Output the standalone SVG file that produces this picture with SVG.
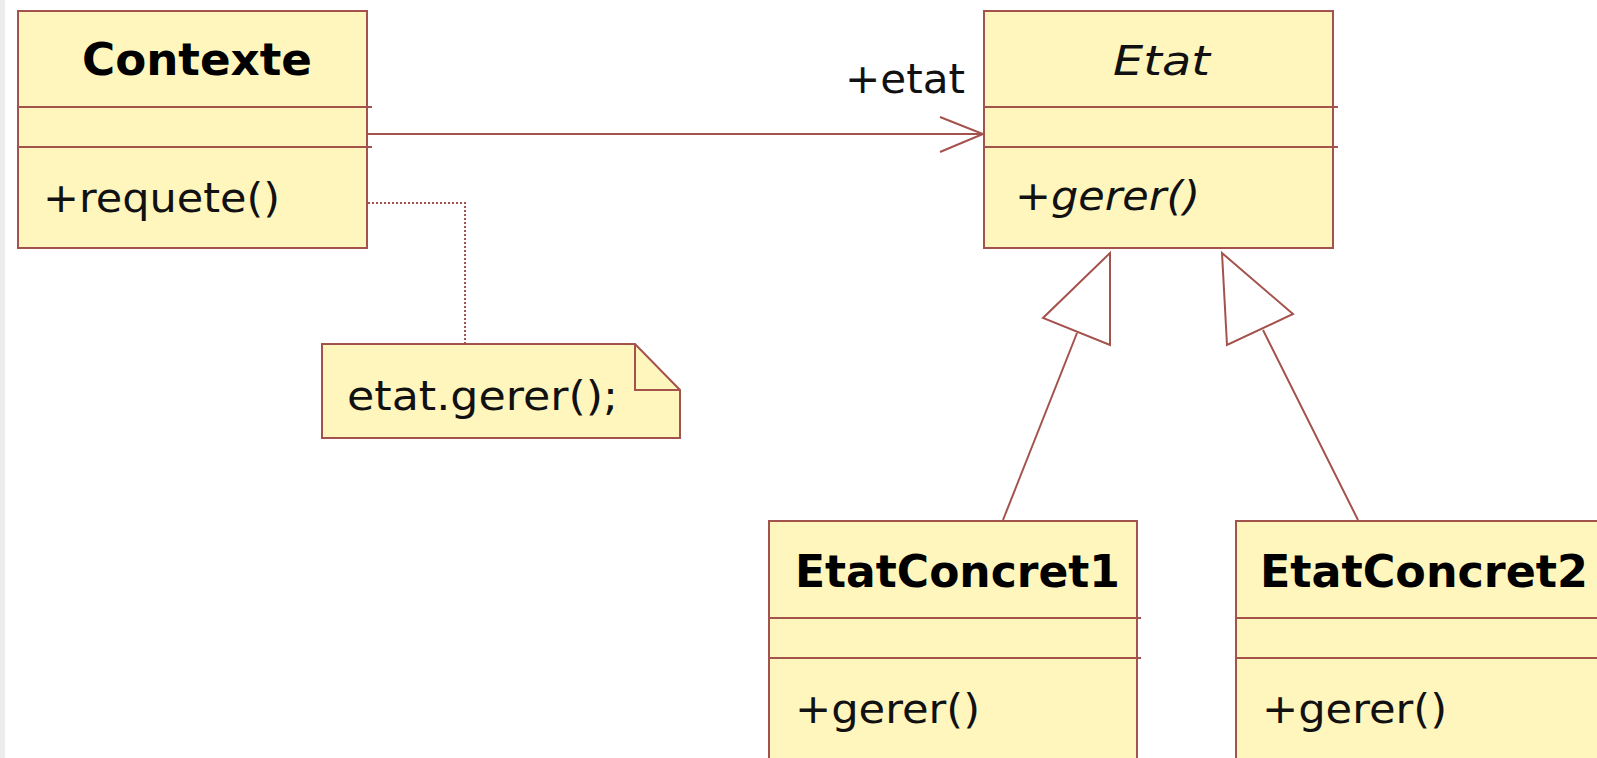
<svg xmlns="http://www.w3.org/2000/svg" width="1597" height="758" viewBox="0 0 1597 758">
<style>
.box{fill:#FFF6BE;stroke:#A4524C;stroke-width:2}
.div{stroke:#A4524C;stroke-width:2}
.ln{stroke:#A4524C;stroke-width:2;fill:none}
.tri{fill:#FFFFFF;stroke:#A4524C;stroke-width:2}
.t{font-family:"DejaVu Sans",Verdana,sans-serif;font-size:41px;fill:#111}
.b{font-family:"DejaVu Sans",Verdana,sans-serif;font-size:44px;font-weight:bold;fill:#000}
.i{font-family:"DejaVu Sans",Verdana,sans-serif;font-size:41px;font-style:italic;fill:#111}
</style>
<rect x="0" y="0" width="1597" height="758" fill="#FFFFFF"/>
<rect x="0" y="0" width="5" height="758" fill="#ECECEC"/>
<g id="connectors">
<line class="ln" x1="367" y1="134" x2="983" y2="134"/>
<polyline class="ln" points="940,117 983,134 940,152"/>
<polyline class="ln" points="368,203 465,203 465,343" stroke-dasharray="2,2"/>
<line class="ln" x1="1003" y1="520" x2="1077" y2="333"/>
<polygon class="tri" points="1110,253 1110,345 1043,318"/>
<line class="ln" x1="1358" y1="520" x2="1263" y2="330"/>
<polygon class="tri" points="1222,253 1227,345 1293,314"/>
</g>
<g id="contexte">
<rect class="box" x="18" y="11" width="349" height="237"/>
<line class="div" x1="18" y1="107" x2="372" y2="107"/>
<line class="div" x1="18" y1="147" x2="372" y2="147"/>
<text class="b" x="197" y="75" text-anchor="middle" textLength="230" lengthAdjust="spacingAndGlyphs">Contexte</text>
<text class="t" x="43" y="212" textLength="237" lengthAdjust="spacingAndGlyphs">+requete()</text>
</g>
<g id="etat-label">
<text class="t" x="845" y="93" textLength="120" lengthAdjust="spacingAndGlyphs">+etat</text>
</g>
<g id="etat">
<rect class="box" x="984" y="11" width="349" height="237"/>
<line class="div" x1="984" y1="107" x2="1338" y2="107"/>
<line class="div" x1="984" y1="147" x2="1338" y2="147"/>
<text class="i" x="1113" y="75" textLength="97" lengthAdjust="spacingAndGlyphs">Etat</text>
<text class="i" x="1015" y="210" textLength="185" lengthAdjust="spacingAndGlyphs">+gerer()</text>
</g>
<g id="note">
<polygon class="box" points="322,344 635,344 680,390 680,438 322,438"/>
<polyline class="ln" points="635,344 635,390 680,390"/>
<text class="t" x="347" y="410" textLength="271" lengthAdjust="spacingAndGlyphs">etat.gerer();</text>
</g>
<g id="etatconcret1">
<rect class="box" x="769" y="521" width="368" height="250"/>
<line class="div" x1="769" y1="618" x2="1141" y2="618"/>
<line class="div" x1="769" y1="658" x2="1141" y2="658"/>
<text class="b" x="795" y="587" textLength="325" lengthAdjust="spacingAndGlyphs">EtatConcret1</text>
<text class="t" x="795" y="723" textLength="185" lengthAdjust="spacingAndGlyphs">+gerer()</text>
</g>
<g id="etatconcret2">
<rect class="box" x="1236" y="521" width="380" height="250"/>
<line class="div" x1="1236" y1="618" x2="1600" y2="618"/>
<line class="div" x1="1236" y1="658" x2="1600" y2="658"/>
<text class="b" x="1260" y="587" textLength="328" lengthAdjust="spacingAndGlyphs">EtatConcret2</text>
<text class="t" x="1262" y="723" textLength="185" lengthAdjust="spacingAndGlyphs">+gerer()</text>
</g>
</svg>
